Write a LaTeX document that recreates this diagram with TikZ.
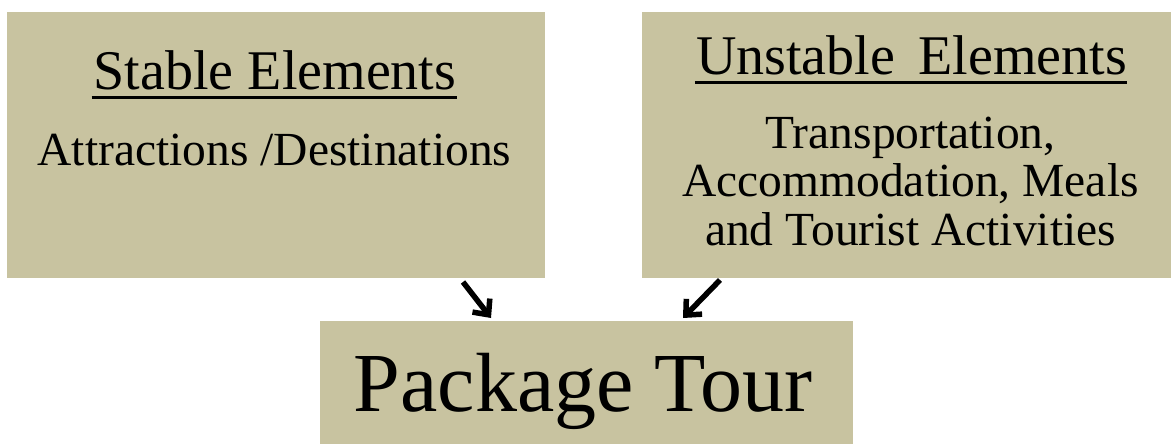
\documentclass[tikz,border=0pt]{standalone}
\usepackage{fontspec}
\setmainfont{Liberation Serif}
\usetikzlibrary{arrows.meta,calc}
\definecolor{boxfill}{RGB}{200,195,160}
\tikzset{
  panel/.style={fill=boxfill,draw=none,inner sep=0,outer sep=0},
  head/.style={inner sep=0,anchor=base,font=\fontsize{56}{58}\selectfont},
  body/.style={inner sep=0,anchor=base,align=center,font=\fontsize{47.5}{48.5}\selectfont},
  uline/.style={line width=3pt},
  link/.style={line width=5.5pt,-{Straight Barb[length=12pt,width=22pt,line width=5.5pt]}}
}
\begin{document}
\begin{tikzpicture}[x=1pt,y=-1pt]
\useasboundingbox (0,0) rectangle (1171,444);
\node[panel,minimum width=538pt,minimum height=266pt] (stable) at (276,145) {};
\node[panel,minimum width=529pt,minimum height=266pt] (unstable) at (906.5,145) {};
\node[panel,minimum width=533pt,minimum height=124pt] (tour) at (586.5,383) {};
\node[head] (h1) at (275,90) {Stable Elements};
\draw[uline] ($(h1.base west)+(-2,8)$) -- ($(h1.base east)+(1,8)$);
\node[head] (h2) at (911.5,75) {Unstable\ \,Elements};
\draw[uline] ($(h2.base west)+(-1,7.5)$) -- ($(h2.base east)+(0,7.5)$);
\node[body] (b1) at (274.5,165) {Attractions /Destinations};
\node[body] (b2) at (910.5,245) {Transportation,\\Accommodation, Meals\\and Tourist Activities};
\node[inner sep=0,anchor=base,font=\fontsize{84}{86}\selectfont] (t) at (583,411) {Package Tour};
\coordinate (a1s) at (463,282);
\coordinate (a1e) at (491,318);
\coordinate (a2s) at (720,280);
\coordinate (a2e) at (683,318);
\draw[link] (a1s) -- (a1e);
\draw[link] (a2s) -- (a2e);
\end{tikzpicture}
\end{document}
